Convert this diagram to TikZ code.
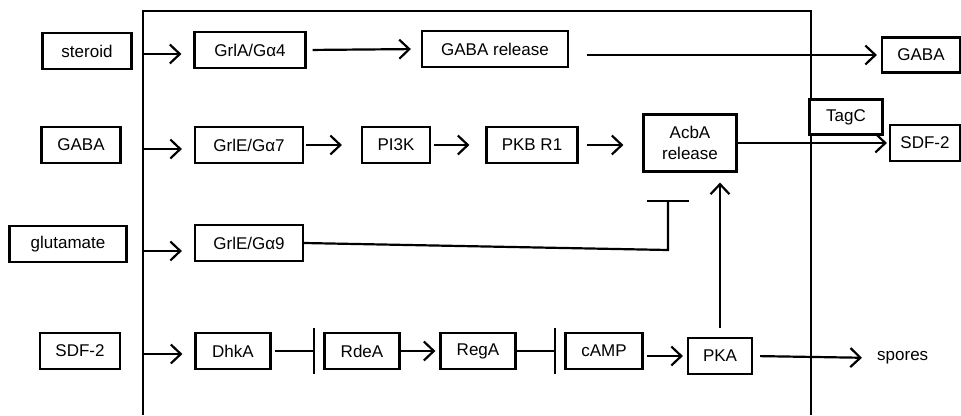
\documentclass[tikz,border=0pt]{standalone}
\usepackage{fontspec}
\setmainfont{Liberation Sans}
\usetikzlibrary{arrows.meta}

\tikzset{
  box/.style={draw, fill=white, line width=2.2pt, inner sep=0pt, minimum height=36pt},
  act/.style={line width=2.2pt, -{Straight Barb[length=10pt,width=19pt]}},
  inh/.style={line width=2.2pt, -{Bar[width=46pt]}},
}

\begin{document}
\begin{tikzpicture}[x=1pt, y=-1pt, font=\fontsize{17}{21}\selectfont]
    \useasboundingbox (0,0) rectangle (961,415);

    \coordinate (CellBL) at (143,415);
    \coordinate (CellTL) at (143,11);
    \coordinate (CellTR) at (811,11);
    \coordinate (CellBR) at (811,415);
    \draw [line width=2.2pt] (CellBL) -- (CellTL) -- (CellTR) -- (CellBR);% Draw cell wall

    % signals outside the cell
    \node[box, minimum width=89pt]  (steroid)   at (87,51)  {steroid};
    \node[box, minimum width=79pt]  (gabaIn)    at (81,145) {GABA};
    \node[box, minimum width=117pt] (glutamate) at (68,244) {glutamate};
    \node[box, minimum width=80pt]  (sdfIn)     at (80,351) {SDF-2};

    % receptors and pathway
    \node[box, minimum width=111pt] (grlA)    at (250,50)  {GrlA/Gα4};
    \node[box, minimum width=146pt] (gabaRel) at (495,49)  {GABA release};
    \node[box, minimum width=108pt] (grlE7)   at (249,145) {GrlE/Gα7};
    \node[box, minimum width=68pt]  (pi3k)    at (396,145) {PI3K};
    \node[box, minimum width=91pt]  (pkb)     at (532,145) {PKB R1};
    \node[box, minimum width=93pt, minimum height=57pt, align=center]
          (acbA) at (690,143) {AcbA\\release};
    \node[box, minimum width=108pt] (grlE9)   at (249,243) {GrlE/Gα9};
    \node[box, minimum width=75pt]  (dhkA)    at (233,351) {DhkA};
    \node[box, minimum width=75pt]  (rdeA)    at (362,351) {RdeA};
    \node[box, minimum width=75pt]  (regA)    at (478,351) {RegA};
    \node[box, minimum width=77pt]  (cAMP)    at (604,351) {cAMP};
    \node[box, minimum width=64pt]  (pka)     at (720,356) {PKA};

    % outputs
    \node[box, minimum width=78pt, minimum height=35pt] (gabaOut) at (921,55)  {GABA};
    \node[box, minimum width=73pt, minimum height=35pt] (tagC)    at (846,117) {TagC};
    \node[box, minimum width=70pt]                      (sdfOut)  at (925,143) {SDF-2};
    \node[inner sep=0pt, anchor=west]                   (spores)  at (877,358) {spores};

    \foreach \name/\y in {grlA/54, grlE7/149, grlE9/251, dhkA/354}{% arrows through the wall
      \coordinate (wall-\name) at (143,\y);
      \draw [act, shorten >=12pt] (wall-\name) -- (\name.west |- wall-\name);
    }

    \draw [act, shorten <=6pt, shorten >=10pt] (grlA.east) -- (gabaRel.west);
    \draw [act, shorten <=18pt, shorten >=4pt] (gabaRel.east |- gabaOut.west) -- (gabaOut.west);
    \draw [act, shorten <=2pt, shorten >=19pt] (grlE7.east) -- (pi3k.west);
    \draw [act, shorten <=3pt, shorten >=16pt] (pi3k.east) -- (pkb.west);
    \draw [act, shorten <=8pt, shorten >=19pt] (pkb.east) -- (acbA.west |- pkb.east);
    \draw [act, shorten >=2pt] (acbA.east) -- (sdfOut.west);

    \coordinate (ga9Knee)  at (668,250);
    \coordinate (acbBlock) at (668,200);
    \draw [inh, -{Bar[width=42pt]}] (grlE9.east) -- (ga9Knee) -- (acbBlock);
    \draw [act, shorten <=9pt, shorten >=10pt] (pka.north) -- (pka.north |- acbA.south);

    \draw [inh, shorten <=3pt, shorten >=8pt] (dhkA.east) -- (rdeA.west);
    \draw [act, shorten >=4pt] (rdeA.east) -- (regA.west);
    \draw [inh, shorten >=8pt] (regA.east) -- (cAMP.west);
    \draw [act, shorten <=3pt, shorten >=4pt] (cAMP.east |- pka.west) -- (pka.west);
    \draw [act, shorten <=7pt, shorten >=15pt] (pka.east) -- (spores.west);
\end{tikzpicture}
\end{document}
